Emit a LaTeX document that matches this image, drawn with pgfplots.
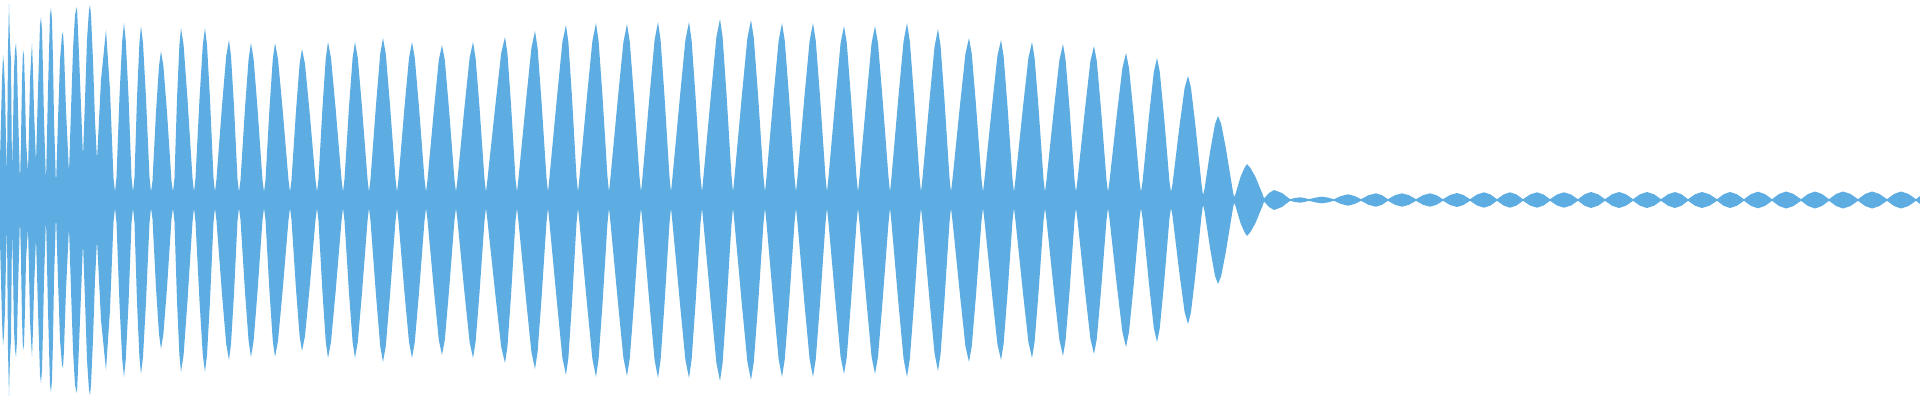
\documentclass[border=0pt]{standalone}
\usepackage{pgfplots}
\usepackage{pgfplotstable}
\pgfplotsset{compat=1.18}
\usepgfplotslibrary{fillbetween}
\definecolor{wave}{RGB}{93,173,226}

% envelope of the waveform: x in px, a = half height in px
\pgfplotstableread{
x a
0 40
2 120
3 145
4 135
5 110
6 60
7 27
8 150
9 196
10 157
11 140
12 30
13 70
14 130
15 150
16 157
17 140
18 90
20 18
21 60
22 120
23 150
24 145
25 110
26 60
28 28
29 70
30 120
31 140
32 157
33 130
34 90
36 37
38 110
40 175
41 183
42 170
43 130
44 80
46 18
48 110
50 185
51 192
52 180
53 140
54 80
56 15
58 80
60 140
62 165
63 168
64 150
66 90
69 27
71 90
73 150
75 185
76 190
77 193
78 170
80 120
83 43
85 100
87 160
89 190
90 195
91 185
93 140
95 80
97 40
101 120
106 170
110 110
113.5 22
115 8
116.5 23
119.5 104
122.2 159
124 177
125.8 159
128.5 104
131.5 23
133 8
134.5 23
137 102
139.4 157
141 174
143 157
146 102
149.5 23
151 8
152.5 19
156 88
159 134
161 149
163.4 134
167 88
171.5 19
173 8
174.5 22
177 101
179.4 155
181 172
183.6 155
187.5 101
192.5 22
194 8
195.5 22
199.5 101
202.8 155
205 172
207 155
210 101
213.5 22
215 8
216.5 21
222 94
226.2 144
229 160
231 144
234 94
237.5 21
239 8
240.5 20
245 92
248.6 141
251 157
253.6 141
257.5 92
262.5 20
264 8
265.5 20
269.5 92
272.8 141
275 157
278 141
282.5 92
288.5 20
290 8
291.5 20
296 89
299.6 136
302 151
305 136
309.5 89
315.5 20
317 8
318.5 21
322.5 93
325.8 142
328 158
331 142
335.5 93
341.5 21
343 8
344.5 21
349 93
352.6 142
355 158
357.8 142
362 93
367.5 21
369 8
370.5 21
376 95
380.2 146
383 162
385.8 146
390 95
395.5 21
397 8
398.5 21
404.5 93
409 142
412 158
414.8 142
419 93
424.5 21
426 8
427.5 20
434 91
438.8 140
442 155
444.8 140
449 91
454.5 20
456 8
457.5 21
464.5 93
469.6 142
473 158
475.6 142
479.5 93
484.5 21
486 8
487.5 21
495.5 96
501.2 147
505 163
507.4 147
511 96
515.5 21
517 8
518.5 22
526 99
531.4 152
535 169
537.6 152
541.5 99
546.5 22
548 8
549.5 23
557 103
562.4 158
566 175
568.4 158
572 103
576.5 23
578 8
579.5 23
587 104
592.4 159
596 177
598.6 159
602.5 104
607.5 23
609 8
610.5 23
618 103
623.4 158
627 176
629.8 158
634 103
639.5 23
641 8
642.5 23
649.5 104
654.6 160
658 178
660.6 160
664.5 104
669.5 23
671 8
672.5 23
680 104
685.4 160
689 178
691.6 160
695.5 104
700.5 23
702 8
703.5 24
711 106
716.4 163
720 181
722.6 163
726.5 106
731.5 24
733 8
734.5 23
742 106
747.4 162
751 180
753.8 162
758 106
763.5 23
765 8
766.5 23
773.5 104
778.6 159
782 177
784.8 159
789 104
794.5 23
796 8
797.5 23
804.5 104
809.6 159
813 177
815.8 159
820 104
825.5 23
827 8
828.5 23
835.5 102
840.6 157
844 174
846.8 157
851 102
856.5 23
858 8
859.5 23
866.5 102
871.6 157
875 174
878 157
882.5 102
888.5 23
890 8
891.5 23
898.5 104
903.6 159
907 177
909.8 159
914 104
919.5 23
921 8
922.5 22
929.5 100
934.6 154
938 171
940.6 154
944.5 100
949.5 22
951 8
952.5 21
960 95
965.4 146
969 162
971.8 146
976 95
981.5 21
983 8
984.5 21
992 94
997.4 144
1001 160
1003.6 144
1007.5 94
1012.5 21
1014 8
1015.5 21
1023 93
1028.4 142
1032 158
1034.6 142
1038.5 93
1043.5 21
1045 8
1046.5 20
1054 92
1059.4 140
1063 156
1065.6 140
1069.5 92
1074.5 20
1076 8
1077.5 20
1085 91
1090.4 139
1094 154
1096.8 139
1101 91
1106.5 20
1108 8
1109.5 19
1117 87
1122.4 132
1126 147
1129 132
1133.5 87
1139.5 19
1141 8
1142.5 18
1149 84
1153.8 128
1157 142
1159.8 128
1164 84
1169.5 18
1171 8
1172.5 16
1179.5 74
1184.6 112
1188 124
1191 112
1195.5 74
1201.5 16
1203 5
1204.5 11
1210.5 51
1215 76
1218 84
1221.2 76
1226 51
1232.5 11
1234 3
1235.5 6
1240.5 23
1244.4 32
1247 36
1250.4 32
1255.5 23
1262.5 6
1264 1.5
1269 7
1274 10
1282 7
1290 0.8
1295 2
1300 2.7
1304.5 2
1309 0.8
1315.5 2.4
1322 3.3
1328 2.4
1334 0.8
1341 4
1348 5.7
1354.5 4
1361 0.8
1368.5 4.8
1376 6.7
1382 4.8
1388 0.8
1395 4.8
1402 6.7
1409 4.8
1416 0.8
1423 4.8
1430 6.7
1436.5 4.8
1443 0.8
1450 5
1457 7
1463.5 5
1470 0.8
1477 5.5
1484 7.7
1490.5 5.5
1497 0.8
1503.5 5.5
1510 7.7
1516.5 5.5
1523 0.8
1530 5.5
1537 7.7
1543.5 5.5
1550 0.8
1557 5.5
1564 7.7
1571 5.5
1578 0.8
1584.5 5.7
1591 8
1598 5.7
1605 0.8
1612 5.7
1619 8
1626 5.7
1633 0.8
1640 5.7
1647 8
1654 5.7
1661 0.8
1668 5.7
1675 8
1681.5 5.7
1688 0.8
1695 5.7
1702 8
1709.5 5.7
1717 0.8
1723.5 5.7
1730 8
1737 5.7
1744 0.8
1751 5.9
1758 8.3
1765 5.9
1772 0.8
1779 6
1786 8.5
1793.5 6
1801 0.8
1808 6
1815 8.5
1822 6
1829 0.8
1836 6
1843 8.5
1850.5 6
1858 0.8
1865 6
1872 8.5
1879.5 6
1887 0.8
1894 6
1901 8.5
1908.5 6
1916 0.8
1920 4
}\wave

\begin{document}
\begin{tikzpicture}
\begin{axis}[
    width=20cm,
    height=4.1667cm,
    scale only axis,
    xmin=0, xmax=1920,
    ymin=-200, ymax=200,
    hide axis,
]
\addplot[name path=top, draw=none] table[x=x, y=a] {\wave};
\addplot[name path=bot, draw=none] table[x=x, y expr=-\thisrow{a}] {\wave};
\addplot[fill=wave, draw=none] fill between[of=top and bot];
\end{axis}
\path (current axis.south west) rectangle (current axis.north east);
\end{tikzpicture}
\end{document}
